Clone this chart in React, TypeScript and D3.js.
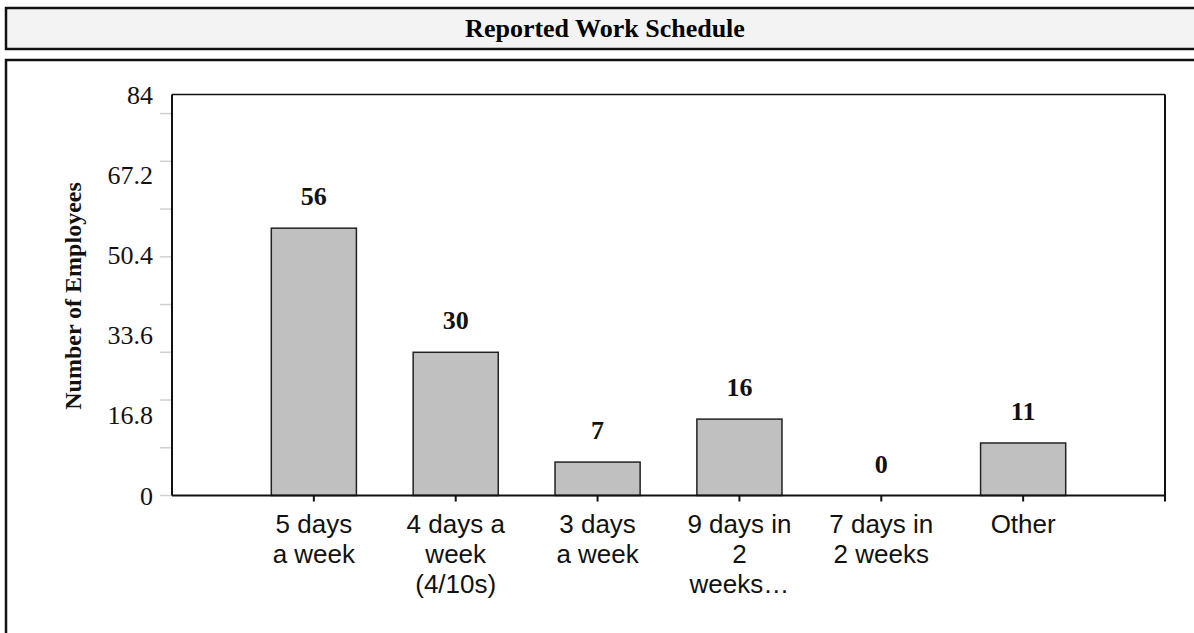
import React from 'react';
import { scaleLinear, scalePoint } from 'd3';

const categories = ['5 days a week', '4 days a week (4/10s)', '3 days a week', '9 days in 2 weeks…', '7 days in 2 weeks', 'Other'];
const categoryLines = [
  ['5 days', 'a week'],
  ['4 days a', 'week', '(4/10s)'],
  ['3 days', 'a week'],
  ['9 days in', '2', 'weeks…'],
  ['7 days in', '2 weeks'],
  ['Other'],
];
const employees = [56, 30, 7, 16, 0, 11];
const yLabelTicks = [0, 16.8, 33.6, 50.4, 67.2, 84];
const yMarkTicks = [0, 10, 20, 30, 40, 50, 60, 70, 80];

const W = 1194;
const H = 633;
const plot = { left: 172, right: 1165, top: 94.5, bottom: 495.5 };
const serif = '"Liberation Serif", "Times New Roman", serif';
const sans = '"Liberation Sans", Arial, sans-serif';

export default function App() {
  const y = scaleLinear().domain([0, 84]).range([plot.bottom, plot.top]);
  const x = scalePoint<string>().domain(categories).range([plot.left, plot.right]).padding(1);
  const barW = x.step() * 0.6;

  return (
    <svg width={W} height={H} style={{ position: 'absolute', left: 0, top: 0, background: '#fff' }}>
      {/* title box */}
      <rect x={6} y={8} width={W + 20} height={41} fill="#f3f3f3" stroke="#111" strokeWidth={2.5} />
      <text x={605} y={37} textAnchor="middle" fontFamily={serif} fontWeight="bold" fontSize={26}>
        Reported Work Schedule
      </text>
      {/* chart box */}
      <rect x={6} y={60} width={W + 20} height={H + 20} fill="#fff" stroke="#111" strokeWidth={2.5} />

      {/* y axis ticks */}
      {yMarkTicks.map((t) => (
        <line key={t} x1={160} x2={plot.left} y1={y(t)} y2={y(t)} stroke="#d0d0d0" strokeWidth={1.5} />
      ))}
      {yLabelTicks.map((t) => (
        <text key={t} x={153} y={y(t)} dy="0.35em" textAnchor="end" fontFamily={serif} fontSize={26} fill="#111">
          {t}
        </text>
      ))}
      <text
        transform={`translate(81,296) rotate(-90)`}
        textAnchor="middle"
        fontFamily={serif}
        fontWeight="bold"
        fontSize={24}
        fill="#111"
      >
        Number of Employees
      </text>

      {/* bars */}
      {categories.map((c, i) => (
        <g key={c}>
          <rect
            x={x(c)! - barW / 2}
            y={y(employees[i])}
            width={barW}
            height={y(0) - y(employees[i])}
            fill="#c0c0c0"
            stroke="#222"
            strokeWidth={1.5}
          />
          <text
            x={x(c)}
            y={y(employees[i]) - 23}
            textAnchor="middle"
            fontFamily={serif}
            fontWeight="bold"
            fontSize={26}
            fill="#111"
          >
            {employees[i]}
          </text>
        </g>
      ))}

      {/* plot frame */}
      <line x1={plot.left} x2={plot.right} y1={plot.top} y2={plot.top} stroke="#111" strokeWidth={1.5} />
      <line x1={plot.left} x2={plot.left} y1={plot.top} y2={plot.bottom} stroke="#111" strokeWidth={2} />
      <line x1={plot.right} x2={plot.right} y1={plot.top} y2={plot.bottom + 6} stroke="#111" strokeWidth={2} />
      <line x1={plot.left} x2={plot.right} y1={plot.bottom} y2={plot.bottom} stroke="#111" strokeWidth={2} />

      {/* x ticks and labels */}
      {categories.map((c, i) => (
        <g key={c}>
          <line x1={x(c)} x2={x(c)} y1={plot.bottom} y2={plot.bottom + 6} stroke="#111" strokeWidth={2} />
          <text textAnchor="middle" fontFamily={sans} fontSize={26} fill="#111">
            {categoryLines[i].map((ln, j) => (
              <tspan key={j} x={x(c)} y={533 + j * 30}>
                {ln}
              </tspan>
            ))}
          </text>
        </g>
      ))}
    </svg>
  );
}
